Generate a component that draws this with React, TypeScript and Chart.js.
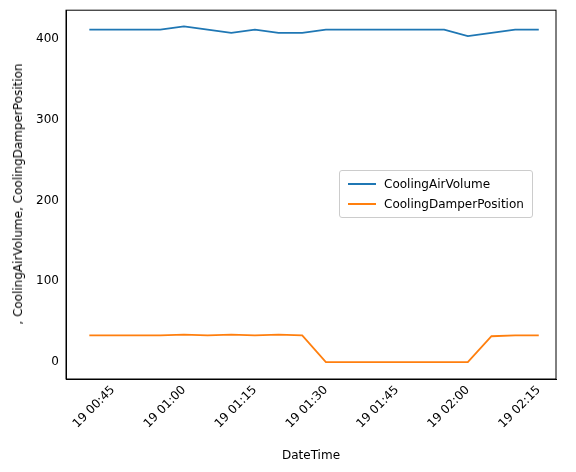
import React, { useEffect, useRef } from "react";
import Chart from "chart.js/auto";

// minutes since 00:00 on day 19
const minutes = [40, 45, 50, 55, 60, 65, 70, 75, 80, 85, 90, 95, 100, 105, 110, 115, 120, 125, 130, 135];
const airVolume = [412, 412, 412, 412, 416, 412, 408, 412, 408, 408, 412, 412, 412, 412, 412, 412, 404, 408, 412, 412];
const damperPosition = [33, 33, 33, 33, 34, 33, 34, 33, 34, 33, 0, 0, 0, 0, 0, 0, 0, 32, 33, 33];
const xTicks = [45, 60, 75, 90, 105, 120, 135];
const yTicks = [0, 100, 200, 300, 400];

const fmt = (m: number) =>
  "19 " + String(Math.floor(m / 60)).padStart(2, "0") + ":" + String(m % 60).padStart(2, "0");

// draws the full frame round the plot area
const framePlugin = {
  id: "frame",
  afterDraw(chart: any) {
    const { ctx, chartArea: a } = chart;
    ctx.save();
    ctx.strokeStyle = "#000";
    ctx.lineWidth = 1;
    ctx.strokeRect(a.left, a.top, a.right - a.left, a.bottom - a.top);
    ctx.restore();
  },
};

function App() {
  const chartRef = useRef(null);

  useEffect(() => {
    if (!chartRef.current) return;
    const ctx = (chartRef.current as HTMLCanvasElement).getContext("2d");
    if (!ctx) return;
    Chart.defaults.font.family = "DejaVu Sans";
    Chart.defaults.font.size = 12;
    Chart.defaults.color = "#000";
    const chart = new Chart(ctx, {
      type: "line",
      data: {
        datasets: [
          {
            label: "CoolingAirVolume",
            data: minutes.map((m, i) => ({ x: m, y: airVolume[i] })),
            borderColor: "#1f77b4",
            borderWidth: 1.8,
            pointRadius: 0,
          },
          {
            label: "CoolingDamperPosition",
            data: minutes.map((m, i) => ({ x: m, y: damperPosition[i] })),
            borderColor: "#ff7f0e",
            borderWidth: 1.8,
            pointRadius: 0,
          },
        ],
      },
      options: {
        animation: false,
        responsive: false,
        layout: { padding: { top: 10, right: 20, left: 0, bottom: 0 } },
        plugins: { legend: { display: false }, tooltip: { enabled: false } },
        scales: {
          x: {
            type: "linear",
            min: 35.07,
            max: 138.64,
            afterBuildTicks: (s: any) => {
              s.ticks = xTicks.map((v) => ({ value: v }));
            },
            afterFit: (s: any) => {
              s.height = 93;
            },
            ticks: {
              callback: (v: any) => fmt(Number(v)),
              maxRotation: 45,
              minRotation: 45,
              padding: 0,
              font: { size: 12 },
            },
            grid: { display: false, drawTicks: true, tickLength: 4, tickColor: "#000" },
            border: { color: "#000" },
            title: { display: true, text: "DateTime", font: { size: 12 }, padding: { top: 0, bottom: 9 } },
          },
          y: {
            min: -21,
            max: 436,
            afterBuildTicks: (s: any) => {
              s.ticks = yTicks.map((v) => ({ value: v }));
            },
            afterFit: (s: any) => {
              s.width = 66;
            },
            ticks: { font: { size: 12 } },
            grid: { display: false, drawTicks: true, tickLength: 4, tickColor: "#000" },
            border: { color: "#000" },
          },
        },
      },
      plugins: [framePlugin],
    });
    return () => chart.destroy();
  }, []);

  const row = (color: string, text: string) => (
    <div style={{ display: "flex", alignItems: "center", height: 20 }}>
      <div style={{ width: 28, height: 2, background: color, marginRight: 8 }} />
      <span>{text}</span>
    </div>
  );

  return (
    <div style={{ position: "relative", width: 576, height: 472, margin: -8, fontFamily: "DejaVu Sans", fontSize: 12 }}>
      <canvas ref={chartRef} width={576} height={472} />
      <div
        style={{
          position: "absolute",
          left: 18,
          top: 194,
          transform: "translate(-50%, -50%) rotate(-90deg)",
          whiteSpace: "nowrap",
        }}
      >
        , CoolingAirVolume, CoolingDamperPosition
      </div>
      <div
        style={{
          position: "absolute",
          left: 339,
          top: 170,
          padding: "3px 8px",
          border: "1px solid #ccc",
          borderRadius: 3,
          background: "rgba(255,255,255,0.8)",
        }}
      >
        {row("#1f77b4", "CoolingAirVolume")}
        {row("#ff7f0e", "CoolingDamperPosition")}
      </div>
    </div>
  );
}

export default App;
